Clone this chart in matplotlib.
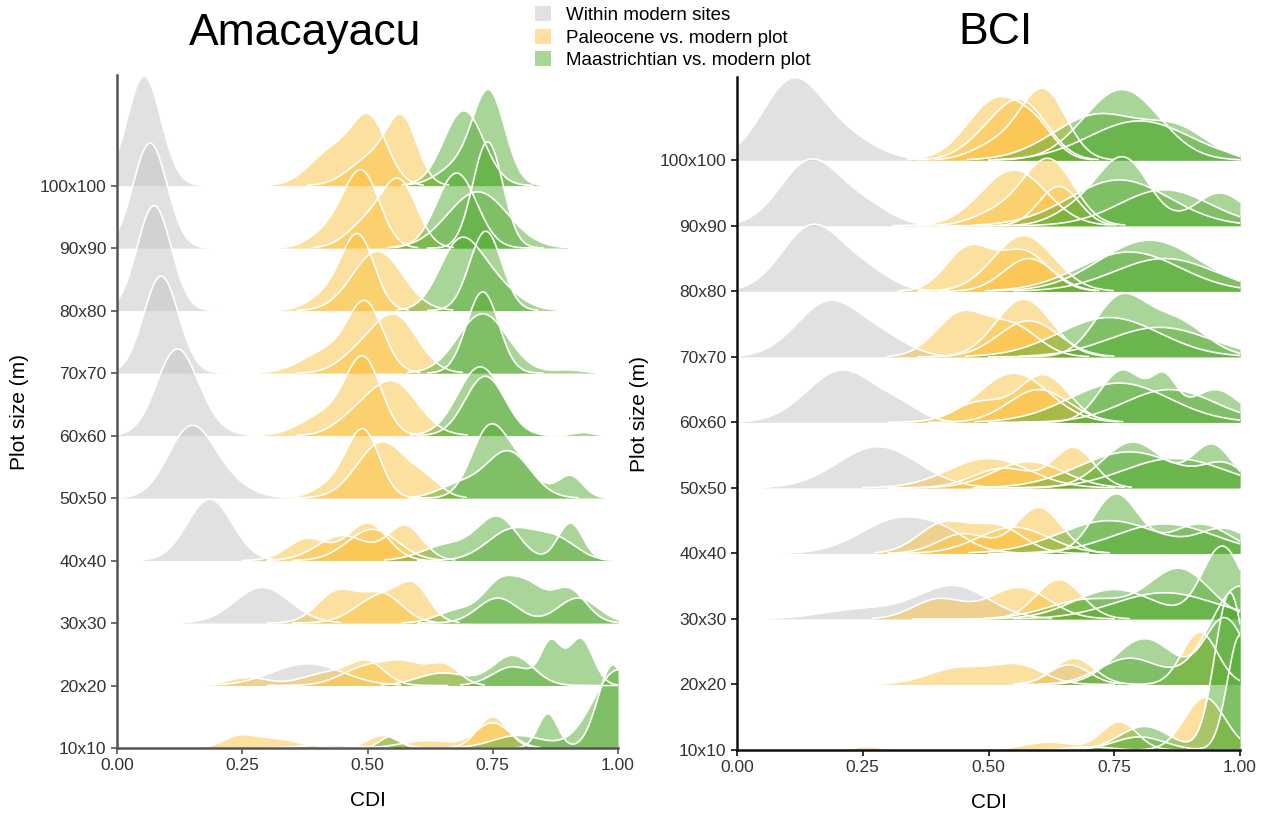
import numpy as np
import matplotlib
matplotlib.use("Agg")
import matplotlib.pyplot as plt
from matplotlib.patches import Patch

plt.rcParams["font.family"] = ["Liberation Sans", "DejaVu Sans"]

ROWS = ["10x10", "20x20", "30x30", "40x40", "50x50",
        "60x60", "70x70", "80x80", "90x90", "100x100"]
GROUPS = ["Within modern sites", "Paleocene vs. modern plot", "Maastrichtian vs. modern plot"]
COLORS = ["#c4c4c4", "#fbc240", "#56ad35"]
XTICKS = [0.0, 0.25, 0.5, 0.75, 1.0]

# each curve: (from, to, [(mode, spread, height in rows), ...])
AMA_GREY = [
    [(0.30, 0.55, [(0.42, 0.05, 0.05)])],
    [(0.17, 0.52, [(0.38, 0.07, 0.35)])],
    [(0.13, 0.42, [(0.29, 0.055, 0.57)])],
    [(0.06, 0.32, [(0.185, 0.045, 0.98)])],
    [(0.03, 0.33, [(0.145, 0.045, 1.05), (0.21, 0.05, 0.25)])],
    [(0.0, 0.27, [(0.118, 0.04, 1.32), (0.17, 0.04, 0.15)])],
    [(0.0, 0.22, [(0.088, 0.035, 1.55)])],
    [(0.0, 0.20, [(0.074, 0.034, 1.68)])],
    [(0.0, 0.19, [(0.066, 0.034, 1.68)])],
    [(0.0, 0.17, [(0.054, 0.034, 1.75)])],
]
AMA_PALEO = [
    [(0.18, 0.80, [(0.24, 0.03, 0.15), (0.31, 0.05, 0.15), (0.53, 0.03, 0.2), (0.75, 0.03, 0.5)]),
     (0.45, 0.82, [(0.62, 0.05, 0.12), (0.75, 0.035, 0.4)])],
    [(0.18, 0.66, [(0.26, 0.04, 0.13), (0.42, 0.05, 0.2), (0.50, 0.035, 0.35)]),
     (0.30, 0.72, [(0.50, 0.05, 0.3), (0.58, 0.04, 0.3), (0.655, 0.03, 0.3)])],
    [(0.30, 0.62, [(0.44, 0.04, 0.5), (0.53, 0.04, 0.45)]),
     (0.35, 0.68, [(0.53, 0.05, 0.45), (0.595, 0.03, 0.45)])],
    [(0.25, 0.60, [(0.38, 0.04, 0.35), (0.50, 0.04, 0.6)]),
     (0.30, 0.66, [(0.45, 0.05, 0.4), (0.575, 0.035, 0.55)]),
     (0.35, 0.62, [(0.51, 0.05, 0.5)])],
    [(0.37, 0.60, [(0.493, 0.032, 1.0), (0.44, 0.04, 0.25)]),
     (0.35, 0.66, [(0.53, 0.05, 0.9), (0.62, 0.03, 0.2)])],
    [(0.31, 0.60, [(0.493, 0.035, 1.15), (0.42, 0.05, 0.35)]),
     (0.36, 0.65, [(0.55, 0.05, 0.85), (0.47, 0.04, 0.2)])],
    [(0.30, 0.60, [(0.497, 0.035, 1.05), (0.42, 0.05, 0.35)]),
     (0.36, 0.63, [(0.555, 0.045, 0.9), (0.48, 0.04, 0.25)])],
    [(0.35, 0.58, [(0.483, 0.032, 1.1), (0.43, 0.04, 0.3)]),
     (0.36, 0.62, [(0.52, 0.05, 0.95)])],
    [(0.36, 0.60, [(0.49, 0.035, 1.15), (0.43, 0.04, 0.3)]),
     (0.40, 0.63, [(0.565, 0.035, 1.0), (0.50, 0.04, 0.4)])],
    [(0.33, 0.60, [(0.505, 0.035, 1.0), (0.43, 0.045, 0.55)]),
     (0.38, 0.63, [(0.57, 0.03, 0.95), (0.51, 0.045, 0.45)])],
]
AMA_MAAS = [
    [(0.50, 1.0, [(0.545, 0.02, 0.18), (0.86, 0.02, 0.55), (0.99, 0.03, 1.33)]),
     (0.65, 1.0, [(0.80, 0.05, 0.2), (1.0, 0.05, 1.25)])],
    [(0.55, 1.0, [(0.79, 0.04, 0.48), (0.65, 0.05, 0.2)]),
     (0.70, 1.0, [(0.866, 0.02, 0.65), (0.925, 0.025, 0.75), (0.79, 0.04, 0.3)])],
    [(0.57, 1.0, [(0.767, 0.035, 0.65), (0.825, 0.03, 0.45), (0.90, 0.035, 0.55), (0.68, 0.04, 0.2)]),
     (0.60, 1.0, [(0.76, 0.04, 0.4), (0.92, 0.04, 0.4)])],
    [(0.55, 0.97, [(0.76, 0.04, 0.68), (0.66, 0.05, 0.25), (0.905, 0.025, 0.6)]),
     (0.60, 0.95, [(0.79, 0.05, 0.5), (0.88, 0.04, 0.3)])],
    [(0.585, 0.97, [(0.74, 0.035, 1.0), (0.80, 0.04, 0.5), (0.905, 0.025, 0.35)]),
     (0.60, 0.92, [(0.78, 0.045, 0.75), (0.68, 0.04, 0.2)])],
    [(0.585, 0.955, [(0.725, 0.045, 1.1), (0.93, 0.02, 0.05)]),
     (0.60, 0.88, [(0.735, 0.04, 0.95)])],
    [(0.585, 0.95, [(0.73, 0.05, 0.95), (0.90, 0.03, 0.05)]),
     (0.62, 0.85, [(0.73, 0.032, 1.3)])],
    [(0.58, 0.86, [(0.68, 0.04, 0.9), (0.74, 0.05, 0.5)]),
     (0.62, 0.84, [(0.736, 0.032, 1.27)])],
    [(0.57, 0.85, [(0.678, 0.04, 1.2)]),
     (0.60, 0.86, [(0.72, 0.06, 0.9)]),
     (0.62, 0.85, [(0.74, 0.03, 1.7)])],
    [(0.60, 0.83, [(0.692, 0.04, 1.2)]),
     (0.62, 0.84, [(0.743, 0.032, 1.45), (0.68, 0.04, 0.3)])],
]

BCI_GREY = [
    [(0.60, 0.80, [(0.70, 0.04, 0.05)])],
    [(0.55, 0.75, [(0.66, 0.04, 0.3)])],
    [(0.10, 0.57, [(0.43, 0.07, 0.5), (0.25, 0.08, 0.15)])],
    [(0.09, 0.52, [(0.33, 0.08, 0.55), (0.42, 0.04, 0.1)])],
    [(0.05, 0.47, [(0.28, 0.08, 0.63)])],
    [(0.02, 0.42, [(0.21, 0.07, 0.8), (0.33, 0.04, 0.15)])],
    [(0.0, 0.40, [(0.185, 0.065, 0.85), (0.30, 0.05, 0.2)])],
    [(0.0, 0.36, [(0.15, 0.06, 1.0), (0.26, 0.05, 0.25)])],
    [(0.0, 0.35, [(0.147, 0.06, 1.0), (0.26, 0.05, 0.25)])],
    [(0.0, 0.34, [(0.11, 0.06, 1.2), (0.22, 0.06, 0.3)])],
]
BCI_PALEO = [
    [(0.15, 1.0, [(0.26, 0.03, 0.05), (0.62, 0.05, 0.12), (0.76, 0.035, 0.43)]),
     (0.80, 1.0, [(0.93, 0.04, 0.8)])],
    [(0.23, 0.75, [(0.44, 0.06, 0.25), (0.56, 0.05, 0.28)]),
     (0.55, 1.0, [(0.67, 0.04, 0.4), (0.92, 0.035, 0.8)])],
    [(0.30, 0.75, [(0.40, 0.05, 0.3), (0.56, 0.06, 0.48)]),
     (0.35, 0.78, [(0.64, 0.045, 0.6)])],
    [(0.28, 0.70, [(0.41, 0.05, 0.45), (0.52, 0.05, 0.4)]),
     (0.30, 0.72, [(0.60, 0.045, 0.7), (0.45, 0.05, 0.3)]),
     (0.32, 0.72, [(0.55, 0.07, 0.4)])],
    [(0.25, 0.75, [(0.50, 0.08, 0.45)]),
     (0.30, 0.76, [(0.67, 0.04, 0.6), (0.53, 0.06, 0.3)]),
     (0.30, 0.74, [(0.58, 0.07, 0.4)])],
    [(0.30, 0.70, [(0.55, 0.07, 0.75)]),
     (0.35, 0.72, [(0.61, 0.05, 0.72), (0.48, 0.05, 0.3)]),
     (0.38, 0.72, [(0.60, 0.06, 0.5)])],
    [(0.30, 0.70, [(0.445, 0.05, 0.65), (0.55, 0.05, 0.45)]),
     (0.36, 0.72, [(0.57, 0.055, 0.88)]),
     (0.40, 0.72, [(0.58, 0.06, 0.55)])],
    [(0.32, 0.68, [(0.46, 0.045, 0.65), (0.57, 0.05, 0.6)]),
     (0.36, 0.70, [(0.57, 0.06, 0.85)]),
     (0.40, 0.70, [(0.58, 0.05, 0.5)])],
    [(0.31, 0.70, [(0.55, 0.065, 0.85)]),
     (0.36, 0.72, [(0.62, 0.05, 1.0), (0.52, 0.05, 0.2)]),
     (0.40, 0.72, [(0.64, 0.04, 0.6)])],
    [(0.34, 0.68, [(0.52, 0.06, 0.95), (0.60, 0.035, 0.25)]),
     (0.36, 0.68, [(0.57, 0.05, 0.8), (0.50, 0.05, 0.3)]),
     (0.40, 0.70, [(0.61, 0.045, 1.05), (0.52, 0.05, 0.25)])],
]
BCI_MAAS = [
    [(0.55, 1.0, [(0.81, 0.05, 0.36), (0.98, 0.03, 2.4)]),
     (0.60, 1.0, [(0.80, 0.05, 0.2), (1.0, 0.025, 1.75)])],
    [(0.55, 1.0, [(0.81, 0.06, 0.7), (0.97, 0.04, 1.0)]),
     (0.60, 1.0, [(0.78, 0.06, 0.4), (1.0, 0.06, 1.5)])],
    [(0.45, 1.0, [(0.965, 0.04, 1.1), (0.75, 0.08, 0.45)]),
     (0.50, 1.0, [(0.88, 0.06, 0.75), (0.70, 0.08, 0.3)]),
     (0.55, 1.0, [(0.85, 0.1, 0.4)])],
    [(0.50, 1.0, [(0.753, 0.045, 0.9), (0.92, 0.06, 0.45)]),
     (0.52, 1.0, [(0.74, 0.10, 0.5), (0.97, 0.05, 0.35)]),
     (0.56, 1.0, [(0.85, 0.10, 0.45)])],
    [(0.47, 1.0, [(0.787, 0.06, 0.7), (0.945, 0.04, 0.65)]),
     (0.50, 1.0, [(0.78, 0.10, 0.55), (0.97, 0.04, 0.3)]),
     (0.55, 1.0, [(0.87, 0.10, 0.45)])],
    [(0.50, 1.0, [(0.767, 0.045, 0.8), (0.85, 0.025, 0.55), (0.95, 0.05, 0.5)]),
     (0.52, 1.0, [(0.76, 0.10, 0.6)]),
     (0.56, 1.0, [(0.86, 0.09, 0.5)])],
    [(0.50, 1.0, [(0.76, 0.05, 0.85), (0.87, 0.06, 0.55)]),
     (0.52, 1.0, [(0.74, 0.10, 0.6)]),
     (0.56, 1.0, [(0.84, 0.10, 0.45)])],
    [(0.50, 1.0, [(0.82, 0.10, 0.78)]),
     (0.52, 1.0, [(0.78, 0.10, 0.6)]),
     (0.55, 1.0, [(0.85, 0.10, 0.5)])],
    [(0.52, 1.0, [(0.77, 0.05, 1.0), (0.96, 0.05, 0.5), (0.68, 0.05, 0.25)]),
     (0.53, 1.0, [(0.76, 0.10, 0.7)]),
     (0.56, 1.0, [(0.85, 0.09, 0.55)])],
    [(0.50, 1.0, [(0.765, 0.075, 1.08)]),
     (0.52, 1.0, [(0.72, 0.09, 0.7), (0.88, 0.06, 0.4)]),
     (0.55, 1.0, [(0.80, 0.10, 0.6)])],
]


def draw_curve(ax, base, lo, hi, bumps, color):
    x = np.linspace(0, 1, 1001)
    y = np.zeros_like(x)
    for mode, spread, height in bumps:
        y += height * np.exp(-0.5 * ((x - mode) / spread) ** 2)
    # data range, stretched so the density tails reach the baseline
    keep = np.flatnonzero(((x >= lo) & (x <= hi)) | (y > 0.01))
    x, y = x[keep[0]:keep[-1] + 1], y[keep[0]:keep[-1] + 1]
    ax.fill_between(x, base, base + y, color=color, alpha=0.5, lw=0)
    ax.plot(x, base + y, color="white", lw=1.2, solid_capstyle="round")


def ridges(ax, groups, top, spine_color):
    # upper rows first, so the lower ones sit in front
    for row in range(len(ROWS) - 1, -1, -1):
        for curves, color in zip(groups, COLORS):
            for lo, hi, bumps in curves[row]:
                draw_curve(ax, row, lo, hi, bumps, color)
    ax.set_xlim(0, 1)
    ax.set_ylim(0, top)
    ax.set_yticks(range(len(ROWS)))
    ax.set_yticklabels(ROWS)
    ax.set_xticks(XTICKS)
    ax.set_xticklabels([f"{t:.2f}" for t in XTICKS])
    ax.tick_params(labelsize=12.5, labelcolor="#333333", color=spine_color, length=4, width=1.2)
    for side in ("top", "right"):
        ax.spines[side].set_visible(False)
    for side in ("left", "bottom"):
        ax.spines[side].set_color(spine_color)
        ax.spines[side].set_linewidth(1.8)
    ax.set_xlabel("CDI", fontsize=15, labelpad=13)
    ax.set_ylabel("Plot size (m)", fontsize=15, labelpad=8)


fig = plt.figure(figsize=(12.7, 8.14), dpi=100)
ax1 = fig.add_axes([117 / 1270, 66 / 814, 501 / 1270, 673 / 814])
ax2 = fig.add_axes([737 / 1270, 64 / 814, 503 / 1270, 673 / 814])

ridges(ax1, [AMA_GREY, AMA_PALEO, AMA_MAAS], 10.77, "#555555")
ridges(ax2, [BCI_GREY, BCI_PALEO, BCI_MAAS], 10.27, "#111111")

fig.text(305 / 1270, 1 - 33 / 814, "Amacayacu", fontsize=32, ha="center", va="center")
fig.text(995 / 1270, 1 - 33 / 814, "BCI", fontsize=32, ha="center", va="center")

handles = [Patch(facecolor=c, alpha=0.5, edgecolor="none") for c in COLORS]
fig.legend(handles, GROUPS, loc="upper left", bbox_to_anchor=(535 / 1270, 1 - 6 / 814),
           frameon=False, fontsize=13.5, handlelength=0.85, handleheight=0.85,
           handletextpad=0.8, labelspacing=0.25, borderpad=0, borderaxespad=0)

fig.savefig("out.png", dpi=100)
